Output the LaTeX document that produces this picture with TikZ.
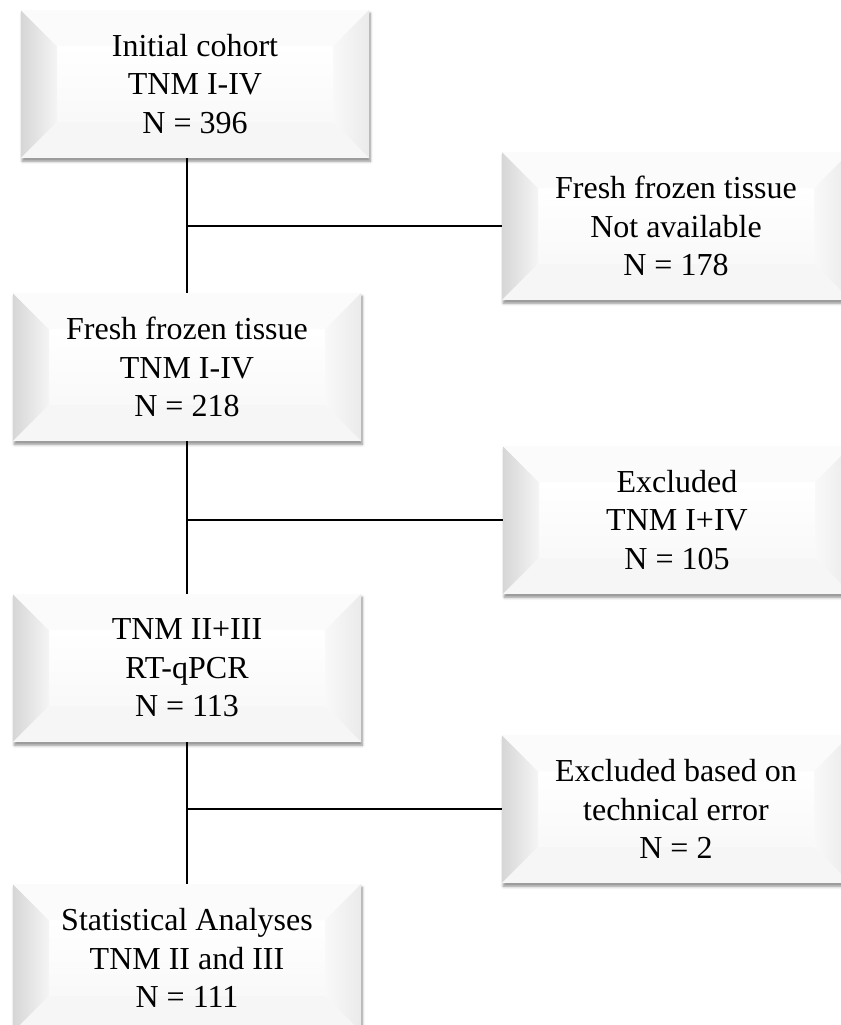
\documentclass[tikz,border=0pt]{standalone}
\usepackage{fontspec}
\setmainfont{Liberation Serif}
\usetikzlibrary{calc, shadows.blur}
\tikzset{
    my-bevel-box/.style={
        rectangle, minimum width=261pt, minimum height=111pt, inner sep=0pt,
        align=center, font=\fontsize{24}{29}\selectfont, fill=white,
        blur shadow={shadow xshift=1pt, shadow yshift=-2.5pt, shadow blur radius=2pt, shadow opacity=45},
        path picture={
            \coordinate (BSW) at (path picture bounding box.south west);
            \coordinate (BNE) at (path picture bounding box.north east);
            \coordinate (BNW) at (BSW |- BNE);
            \coordinate (BSE) at (BNE |- BSW);
            \coordinate (ISW) at ($(BSW) + (27pt, 27pt)$);
            \coordinate (INW) at ($(BNW) + (27pt, -27pt)$);
            \coordinate (INE) at ($(BNE) + (-27pt, -27pt)$);
            \coordinate (ISE) at ($(BSE) + (-27pt, 27pt)$);
            \shade[top color=white, bottom color=gray!5] (ISW) rectangle (INE);
            \shade[left color=gray!32, right color=gray!8] (BSW) -- (BNW) -- (INW) -- (ISW) -- cycle;
            \fill[gray!3] (BNW) -- (BNE) -- (INE) -- (INW) -- cycle;
            \shade[left color=gray!5, right color=gray!16] (BNE) -- (BSE) -- (ISE) -- (INE) -- cycle;
            \fill[gray!7] (BSW) -- (BSE) -- (ISE) -- (ISW) -- cycle;
        }
    },
    my-wire/.style={
        line width=1.3pt
    },
}
\begin{document}
\begin{tikzpicture}[x=0.75pt, y=-0.75pt]

        \useasboundingbox (0,0) rectangle (841,1025);

        % MAIN COLUMN
        \node[my-bevel-box] (INIT)   at (195,84)  {Initial cohort\\TNM I-IV\\N = 396};
        \node[my-bevel-box] (FROZEN) at (187,367) {Fresh frozen tissue\\TNM I-IV\\N = 218};
        \node[my-bevel-box] (QPCR)   at (187,668) {TNM II+III\\RT-qPCR\\N = 113};
        \node[my-bevel-box] (STATS)  at (187,958) {Statistical Analyses\\TNM II and III\\N = 111};

        % EXCLUSIONS
        \node[my-bevel-box] (NOTAVAIL) at (676,226) {Fresh frozen tissue\\Not available\\N = 178};
        \node[my-bevel-box] (EXCL1)    at (677,520) {Excluded\\TNM I+IV\\N = 105};
        \node[my-bevel-box] (EXCL2)    at (676,809) {Excluded based on\\technical error\\N = 2};

        % JOIN POINTS
        \coordinate (JOIN1) at (FROZEN.north |- NOTAVAIL.west);
        \coordinate (JOIN2) at (QPCR.north   |- EXCL1.west);
        \coordinate (JOIN3) at (STATS.north  |- EXCL2.west);

        % TRUNK CONNECTIONS
        \draw[my-wire] (FROZEN.north |- INIT.south)  -- (FROZEN.north);
        \draw[my-wire] (QPCR.north   |- FROZEN.south) -- (QPCR.north);
        \draw[my-wire] (STATS.north  |- QPCR.south)  -- (STATS.north);

        % BRANCH CONNECTIONS
        \draw[my-wire] (JOIN1) -- (NOTAVAIL.west);
        \draw[my-wire] (JOIN2) -- (EXCL1.west);
        \draw[my-wire] (JOIN3) -- (EXCL2.west);

\end{tikzpicture}
\end{document}
